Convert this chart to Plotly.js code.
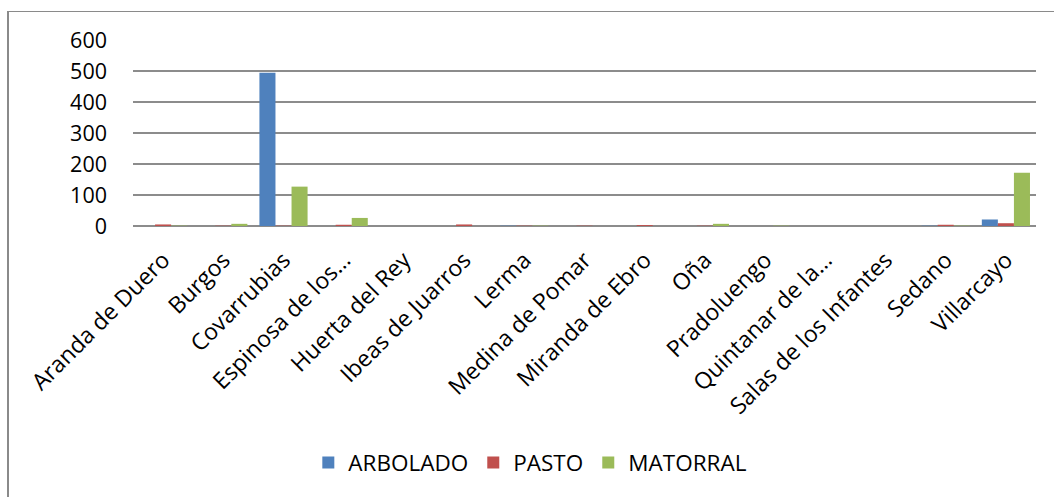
<!DOCTYPE html>
<html>
<head>
<meta charset="utf-8">
<script src="https://cdn.plot.ly/plotly-3.0.1.min.js"></script>
<style>
  html, body { margin: 0; padding: 0; background: #fff; }
  #wrap { position: relative; width: 1054px; height: 497px; overflow: hidden; }
  #frame { position: absolute; left: 7px; top: 11px; width: 1100px; height: 600px;
           border-left: 2px solid #8a8a8a; border-top: 1px solid #8a8a8a; pointer-events: none; }
  #chart { position: absolute; left: 0; top: 0; width: 1054px; height: 497px; }
</style>
</head>
<body>
<div id="wrap">
  <div id="chart"></div>
  <div id="frame"></div>
</div>
<script>
const categories = ["Aranda de Duero", "Burgos", "Covarrubias", "Espinosa de los…", "Huerta del Rey",
  "Ibeas de Juarros", "Lerma", "Medina de Pomar", "Miranda de Ebro", "Oña", "Pradoluengo",
  "Quintanar de la…", "Salas de los Infantes", "Sedano", "Villarcayo"];
const arbolado = [0, 0, 494, 0, 0, 0, 1, 0, 0, 0, 0, 0, 0, 1, 21];
const pasto    = [5, 1, 1, 4, 0, 5, 1, 1, 3, 1, 0, 0, 0, 4, 9];
const matorral = [1, 7, 127, 26, 0, 0, 1, 0, 0, 7, 1, 0, 0, 1, 172];
const seriesNames = ["ARBOLADO", "PASTO", "MATORRAL"];
const seriesColors = ["#4F81BD", "#C0504D", "#9BBB59"];
const yTicks = [0, 100, 200, 300, 400, 500, 600];

const FONT = "Open Sans, DejaVu Sans, sans-serif";
const values = [arbolado, pasto, matorral];
const traces = values.map((v, i) => ({
  type: "bar", x: categories, y: v, name: seriesNames[i],
  marker: { color: seriesColors[i], line: { width: 0 } },
  hoverinfo: "x+y+name"
}));

const layout = {
  width: 1054, height: 497,
  margin: { l: 133, r: 18, t: 40, b: 271, pad: 0 },
  paper_bgcolor: "rgba(0,0,0,0)", plot_bgcolor: "rgba(0,0,0,0)",
  barmode: "group", bargap: 0.2, bargroupgap: 0,
  showlegend: true,
  legend: { orientation: "h", x: 0.44, xanchor: "center", y: -1.274, yanchor: "middle",
            font: { family: FONT, size: 22.5, color: "#000" }, itemwidth: 30, tracegroupgap: 0 },
  xaxis: {
    type: "category", tickangle: -45, showgrid: false, showline: false, zeroline: false,
    ticks: "", ticklabelstandoff: 15,
    tickfont: { family: FONT, size: 23, color: "#000" }, automargin: false
  },
  yaxis: {
    range: [0, 600], tickvals: yTicks, ticktext: yTicks.map(String),
    showgrid: true, gridcolor: "#8c8c8c", gridwidth: 1.6,
    zeroline: true, zerolinecolor: "#8c8c8c", zerolinewidth: 1.6,
    showline: false, ticks: "", ticklabelstandoff: 25,
    tickfont: { family: FONT, size: 21.5, color: "#000" }, automargin: false
  }
};

Plotly.newPlot("chart", traces, layout, { displayModeBar: false, staticPlot: true });
</script>
</body>
</html>
